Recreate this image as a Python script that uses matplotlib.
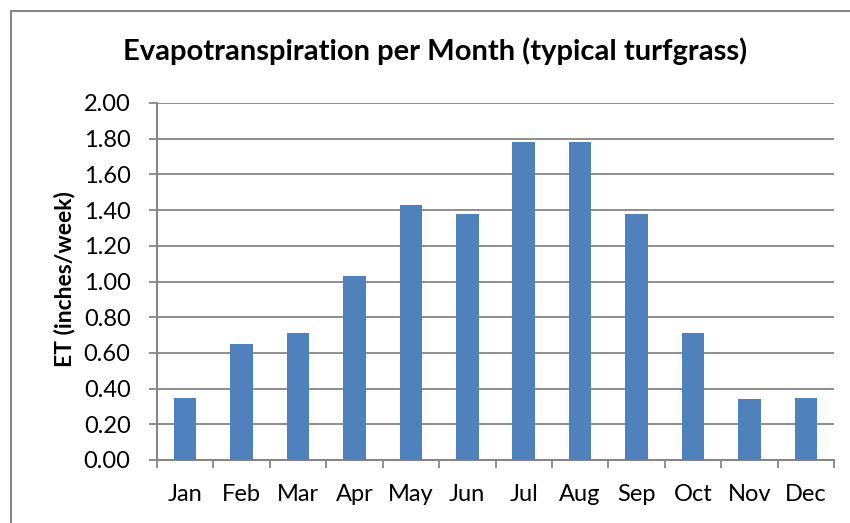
import matplotlib
matplotlib.use("Agg")
import matplotlib.pyplot as plt
from matplotlib.patches import Rectangle
import numpy as np

# data
months = ['Jan', 'Feb', 'Mar', 'Apr', 'May', 'Jun',
          'Jul', 'Aug', 'Sep', 'Oct', 'Nov', 'Dec']
et_values = [0.35, 0.65, 0.71, 1.03, 1.43, 1.38,
             1.78, 1.78, 1.38, 0.71, 0.34, 0.35]
y_ticks = [0.0, 0.2, 0.4, 0.6, 0.8, 1.0, 1.2, 1.4, 1.6, 1.8, 2.0]

W, H = 850, 523
plt.rcParams['font.family'] = ['Lato', 'DejaVu Sans']

fig = plt.figure(figsize=(W / 100, H / 100), dpi=100)
ax = fig.add_axes([157 / W, 1 - 460 / H, (834 - 157) / W, (460 - 103) / H])

grey = '#868686'
x = np.arange(len(months))
ax.bar(x, et_values, width=0.4, color='#4F81BD', zorder=3)

ax.set_xlim(-0.5, len(months) - 0.5)
ax.set_ylim(0, 2.0)
ax.set_yticks(y_ticks)
ax.set_yticklabels(['%.2f' % v for v in y_ticks])
ax.yaxis.grid(True, color=grey, linewidth=1.3, zorder=0)

# month labels centered, tick marks at category boundaries
ax.set_xticks(x)
ax.set_xticklabels(months)
ax.set_xticks(np.arange(-0.5, len(months)), minor=True)
ax.tick_params(axis='x', which='major', length=0, pad=17, labelsize=17)
ax.tick_params(axis='x', which='minor', length=6, width=1.3, color=grey)
ax.tick_params(axis='y', length=6, width=1.3, color=grey, pad=13, labelsize=17)

for spine in ['top', 'right']:
    ax.spines[spine].set_visible(False)
for spine in ['bottom', 'left']:
    ax.spines[spine].set_color(grey)
    ax.spines[spine].set_linewidth(1.5)

ax.set_ylabel('ET (inches/week)', fontsize=16.5, fontweight='bold')
ax.yaxis.set_label_coords(75 / W, 1 - 279 / H, transform=fig.transFigure)

fig.text(435 / W, 1 - 60 / H, 'Evapotranspiration per Month (typical turfgrass)',
         ha='center', va='baseline', fontsize=21, fontweight='bold')

# outer chart frame, cut off on the right and bottom
fig.patches.append(Rectangle((11 / W, -0.1), 1.2, 1 - 11 / H + 0.1,
                             transform=fig.transFigure, fill=False,
                             edgecolor=grey, linewidth=1.5))

fig.savefig('out.png', dpi=100)
